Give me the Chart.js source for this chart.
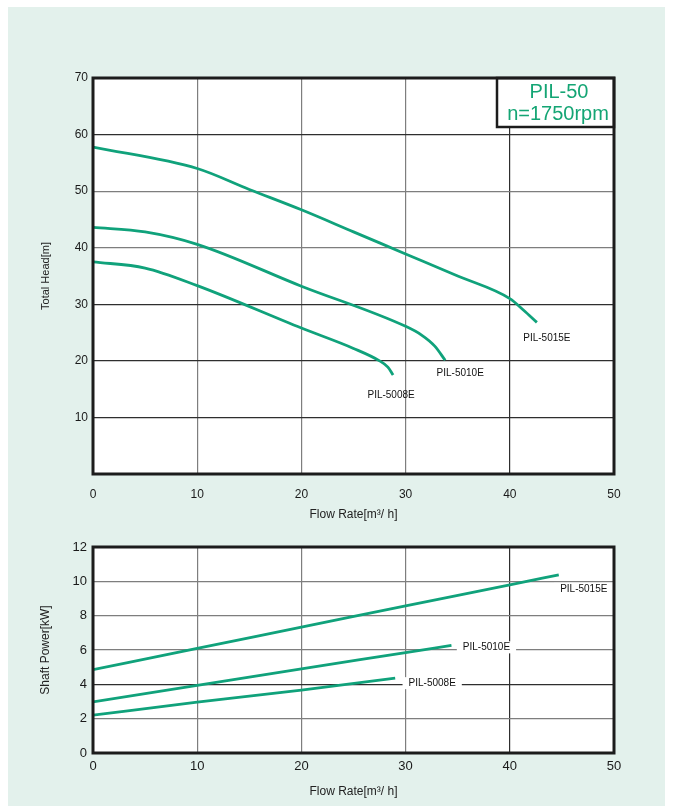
<!DOCTYPE html>
<html><head><meta charset="utf-8">
<script src="https://cdn.jsdelivr.net/npm/chart.js@4/dist/chart.umd.min.js"></script>
<style>
html,body{margin:0;padding:0;background:#fff;}
body{width:680px;height:806px;position:relative;overflow:hidden;}
#bg{position:absolute;left:8px;top:7px;width:657px;height:799px;background:#e3f1ec;}
#c1{position:absolute;left:0;top:60px;}
#c2{position:absolute;left:0;top:530px;}
</style></head><body>
<div id="bg"></div>
<canvas id="c1" width="680" height="470"></canvas>
<canvas id="c2" width="680" height="276"></canvas>
<script>
// ---------- DATA ----------
const modelTitle = ['PIL-50', 'n=1750rpm'];
const seriesNames = ['PIL-5015E', 'PIL-5010E', 'PIL-5008E'];
const flowTicks = [0, 10, 20, 30, 40, 50];
const headTicks = [0, 10, 20, 30, 40, 50, 60, 70];
const powerTicks = [0, 2, 4, 6, 8, 10, 12];

// Total head [m] vs flow [m3/h]
const headFlow5015 = [0, 10, 15, 20, 25, 30, 35, 40, 41.3, 42.6];
const head5015     = [57.8, 54.0, 50.3, 46.7, 42.8, 38.9, 35.0, 31.0, 29.0, 26.8];
const headFlow5010 = [0, 5, 10, 20, 30, 31.5, 32.8, 33.8];
const head5010     = [43.6, 42.8, 40.6, 33.2, 26.1, 24.6, 22.6, 20.1];
const headFlow5008 = [0, 5, 10, 20, 25, 27.5, 28.3, 28.8];
const head5008     = [37.5, 36.4, 33.3, 25.8, 22.2, 20.0, 18.9, 17.5];

// Shaft power [kW] vs flow [m3/h]
const powerFlow5015 = [0, 10, 20, 30, 40, 44.7];
const power5015     = [4.85, 6.1, 7.33, 8.57, 9.79, 10.38];
const powerFlow5010 = [0, 10, 20, 30, 34.4];
const power5010     = [2.98, 3.94, 4.9, 5.85, 6.27];
const powerFlow5008 = [0, 10, 20, 29];
const power5008     = [2.2, 2.96, 3.66, 4.36];

// ---------- STYLE ----------
const FONT = '"Liberation Sans", Arial, Helvetica, sans-serif';
const GREEN = '#10a27b';
const TITLE_GREEN = '#14a574';
const FRAME = '#1c1c1c';

const pts = (xs, ys) => xs.map((x, i) => ({x, y: ys[i]}));

function lineDs(label, xs, ys) {
  return {
    label, data: pts(xs, ys),
    borderColor: GREEN, borderWidth: 2.8, pointRadius: 0,
    cubicInterpolationMode: 'monotone', fill: false
  };
}

const framePlugin = {
  id: 'frame',
  beforeDraw(chart) {
    const a = chart.chartArea, ctx = chart.ctx;
    ctx.save(); ctx.fillStyle = '#fff';
    ctx.fillRect(a.left, a.top, a.right - a.left, a.bottom - a.top);
    ctx.restore();
  },
  afterDraw(chart, args, opts) {
    const a = chart.chartArea, ctx = chart.ctx;
    ctx.save();
    if (opts.titleBox) {
      const w = 117, h = 49, x0 = a.right - w, y0 = a.top;
      ctx.fillStyle = '#fff'; ctx.fillRect(x0, y0, w, h);
      ctx.lineWidth = 2.5; ctx.strokeStyle = FRAME; ctx.strokeRect(x0, y0, w, h);
      ctx.fillStyle = TITLE_GREEN; ctx.font = '20px ' + FONT;
      ctx.textAlign = 'center'; ctx.textBaseline = 'middle';
      ctx.fillText(modelTitle[0], a.right - 55, y0 + 14);
      ctx.fillText(modelTitle[1], a.right - 56, y0 + 36);
    }
    ctx.lineWidth = 3; ctx.strokeStyle = FRAME;
    ctx.strokeRect(a.left, a.top, a.right - a.left, a.bottom - a.top);
    ctx.restore();
  }
};

const labelPlugin = {
  id: 'curveLabels',
  afterDatasetsDraw(chart, args, opts) {
    const ctx = chart.ctx;
    ctx.save();
    ctx.font = '10px ' + FONT;
    ctx.textAlign = 'center'; ctx.textBaseline = 'middle';
    chart.data.datasets.forEach((ds, i) => {
      const meta = chart.getDatasetMeta(i);
      const pt = meta.data[meta.data.length - 1];
      const o = opts.offsets[i];
      const x = pt.x + o.dx, y = pt.y + o.dy;
      if (opts.bg) {
        const w = ctx.measureText(ds.label).width + 12;
        ctx.fillStyle = '#fff'; ctx.fillRect(x - w / 2, y - 6, w, 12);
      }
      ctx.fillStyle = '#111';
      ctx.fillText(ds.label, x, y);
    });
    ctx.restore();
  }
};

function gridColor(darkVals) {
  return (c) => (c.tick && darkVals.includes(c.tick.value)) ? '#2e2e2e' : '#7e7e7e';
}

function makeChart(id, cfg) {
  return new Chart(document.getElementById(id), {
    type: 'line',
    data: { datasets: cfg.datasets },
    plugins: [framePlugin, labelPlugin],
    options: {
      responsive: false, animation: false, devicePixelRatio: 1,
      layout: { padding: { left: 0, top: cfg.padTop, right: 66, bottom: 0 } },
      plugins: {
        legend: { display: false }, tooltip: { enabled: false },
        frame: { titleBox: cfg.titleBox },
        curveLabels: { offsets: cfg.offsets, bg: cfg.labelBg }
      },
      scales: {
        x: {
          type: 'linear', min: 0, max: 50,
          afterBuildTicks: (s) => { s.ticks = flowTicks.map(v => ({value: v})); },
          afterFit: (s) => { s.height = cfg.xHeight; },
          border: { display: false },
          grid: { color: gridColor([40]), lineWidth: 1.2, drawTicks: false },
          ticks: { color: '#1a1a1a', padding: cfg.xTickPad, font: { family: FONT, size: cfg.xTickSize } },
          title: { display: true, text: 'Flow Rate[m³/ h]', color: '#222',
                   font: { family: FONT, size: 12 }, padding: { top: 0, bottom: cfg.xTitlePad } }
        },
        y: {
          type: 'linear', min: cfg.yMin, max: cfg.yMax,
          afterBuildTicks: (s) => { s.ticks = cfg.yTicks.map(v => ({value: v})); },
          afterFit: (s) => { s.width = 93; },
          border: { display: false },
          grid: { color: gridColor(cfg.darkY), lineWidth: 1.2, drawTicks: false },
          ticks: { color: '#1a1a1a', padding: cfg.yTickPad, font: { family: FONT, size: cfg.yTickSize },
                   callback: (v) => (cfg.hideZero && v === 0) ? '' : String(v) },
          title: { display: true, text: cfg.yTitle, color: '#222',
                   font: { family: FONT, size: cfg.yTitleSize }, padding: { top: cfg.yTitlePad, bottom: 0 } }
        }
      }
    }
  });
}

makeChart('c1', {
  datasets: [
    lineDs(seriesNames[0], headFlow5015, head5015),
    lineDs(seriesNames[1], headFlow5010, head5010),
    lineDs(seriesNames[2], headFlow5008, head5008)
  ],
  padTop: 18, xHeight: 56, xTickPad: 13, xTickSize: 12, xTitlePad: 8,
  yMin: 0, yMax: 70, yTicks: headTicks, hideZero: true, darkY: [10, 20, 30, 60],
  yTickPad: 5, yTickSize: 12,
  yTitle: 'Total Head[m]', yTitleSize: 11, yTitlePad: 39,
  titleBox: true, labelBg: false,
  offsets: [{dx: 10, dy: 16}, {dx: 15, dy: 13}, {dx: -2, dy: 20}]
});

makeChart('c2', {
  datasets: [
    lineDs(seriesNames[0], powerFlow5015, power5015),
    lineDs(seriesNames[1], powerFlow5010, power5010),
    lineDs(seriesNames[2], powerFlow5008, power5008)
  ],
  padTop: 17, xHeight: 53, xTickPad: 6, xTickSize: 13, xTitlePad: 7,
  yMin: 0, yMax: 12, yTicks: powerTicks, hideZero: false, darkY: [4],
  yTickPad: 6, yTickSize: 13,
  yTitle: 'Shaft Power[kW]', yTitleSize: 12, yTitlePad: 38,
  titleBox: false, labelBg: true,
  offsets: [{dx: 25, dy: 14}, {dx: 35, dy: 2}, {dx: 37, dy: 5}]
});
</script>
</body></html>
